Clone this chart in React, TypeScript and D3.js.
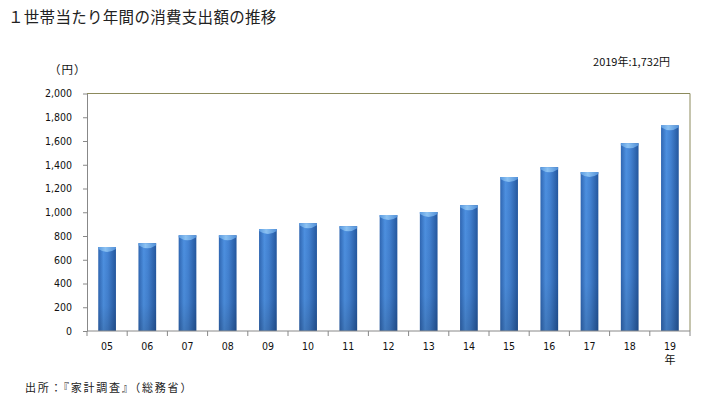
import { useEffect, useRef } from "react";
import * as d3 from "d3";

const years = ["05", "06", "07", "08", "09", "10", "11", "12", "13", "14", "15", "16", "17", "18", "19"];
const spending = [707, 740, 806, 806, 858, 908, 883, 976, 1002, 1060, 1296, 1380, 1338, 1582, 1732];
const yTicks = [0, 200, 400, 600, 800, 1000, 1200, 1400, 1600, 1800, 2000];

const title = "１世帯当たり年間の消費支出額の推移";
const note = "2019年:1,732円";
const unit = "（円）";
const source = "出所：『家計調査』（総務省）";

const App = () => {
  const svgRef = useRef<SVGSVGElement | null>(null);

  useEffect(() => {
    const width = 701;
    const height = 409;
    const left = 87;
    const right = 690;
    const top = 93.5;
    const bottom = 331;
    const jp = "'Noto Sans CJK JP', sans-serif";
    const num = "'DejaVu Sans Condensed', 'Liberation Sans Narrow', sans-serif";

    const svg = d3.select(svgRef.current);
    svg.selectAll("*").remove();
    svg.attr("width", width).attr("height", height);

    const defs = svg.append("defs");
    const side = defs.append("linearGradient").attr("id", "barSide")
      .attr("x1", "0").attr("x2", "1").attr("y1", "0").attr("y2", "0");
    [["0%", "#2f66b2"], ["30%", "#4d90e0"], ["55%", "#4382d2"], ["100%", "#24579e"]]
      .forEach(([o, c]) => side.append("stop").attr("offset", o).attr("stop-color", c));
    const shade = defs.append("linearGradient").attr("id", "barShade")
      .attr("x1", "0").attr("x2", "0").attr("y1", "0").attr("y2", "1");
    [["0%", "#000", 0], ["70%", "#000", 0.04], ["100%", "#000", 0.16]]
      .forEach(([o, c, a]) => shade.append("stop").attr("offset", o as string)
        .attr("stop-color", c as string).attr("stop-opacity", a as number));
    const cap = defs.append("linearGradient").attr("id", "barCap")
      .attr("x1", "0").attr("x2", "1").attr("y1", "0").attr("y2", "0");
    [["0%", "#5a9ae0"], ["40%", "#8cc2f2"], ["100%", "#5290d8"]]
      .forEach(([o, c]) => cap.append("stop").attr("offset", o).attr("stop-color", c));

    const x = d3.scaleBand<string>().domain(years).range([left, right]).paddingInner(0.56).paddingOuter(0.28);
    const band = d3.scaleBand<string>().domain(years).range([left, right]);
    const y = d3.scaleLinear().domain([0, 2000]).range([bottom, top]);

    svg.append("text").attr("x", 8).attr("y", 23).attr("font-family", jp)
      .attr("font-size", 15.5).attr("letter-spacing", 0.3).attr("fill", "#222").text(title);
    svg.append("text").attr("x", 670).attr("y", 66).attr("text-anchor", "end")
      .attr("font-family", jp).attr("font-size", 11).attr("fill", "#111").text(note);
    svg.append("text").attr("x", 49).attr("y", 74).attr("font-family", jp)
      .attr("font-size", 11.5).attr("letter-spacing", 1).attr("fill", "#111").text(unit);
    svg.append("text").attr("x", 25).attr("y", 392).attr("font-family", jp)
      .attr("font-size", 11).attr("letter-spacing", 1.8).attr("fill", "#222").text(source);

    // frame top / right
    svg.append("path")
      .attr("d", `M${left},${top}H${right}V${bottom}`)
      .attr("fill", "none").attr("stroke", "#8c8a5c").attr("stroke-width", 1);

    const bars = svg.append("g").selectAll("g").data(years).enter().append("g");
    bars.append("rect")
      .attr("x", d => x(d) as number)
      .attr("y", (_, i) => y(spending[i]))
      .attr("width", x.bandwidth())
      .attr("height", (_, i) => bottom - y(spending[i]))
      .attr("fill", "url(#barSide)");
    bars.append("rect")
      .attr("x", d => x(d) as number)
      .attr("y", (_, i) => y(spending[i]))
      .attr("width", x.bandwidth())
      .attr("height", (_, i) => bottom - y(spending[i]))
      .attr("fill", "url(#barShade)");
    bars.append("path")
      .attr("d", (d, i) => {
        const x0 = x(d) as number;
        const x1 = x0 + x.bandwidth();
        const t = y(spending[i]);
        const cx = (x0 + x1) / 2;
        return `M${x0},${t}H${x1}V${t + 2}Q${cx},${t + 8} ${x0},${t + 2}Z`;
      })
      .attr("fill", "url(#barCap)");

    // y axis
    const yAxis = svg.append("g").attr("transform", `translate(${left},0)`)
      .call(d3.axisLeft(y).tickValues(yTicks).tickSize(4).tickSizeOuter(0)
        .tickFormat(d => d3.format(",")(d as number)));
    yAxis.select(".domain").attr("stroke", "#888");
    yAxis.selectAll(".tick line").attr("stroke", "#888");
    yAxis.selectAll(".tick text").attr("font-family", num).attr("font-size", 10.5)
      .attr("fill", "#111").attr("x", -15);

    // x axis
    svg.append("line").attr("x1", left).attr("x2", right).attr("y1", bottom).attr("y2", bottom)
      .attr("stroke", "#888");
    const edges = [...years.map(d => band(d) as number), right];
    svg.append("g").selectAll("line").data(edges).enter().append("line")
      .attr("x1", d => d).attr("x2", d => d).attr("y1", bottom).attr("y2", bottom + 5)
      .attr("stroke", "#888");
    svg.append("g").selectAll("text").data(years).enter().append("text")
      .attr("x", d => (band(d) as number) + band.bandwidth() / 2)
      .attr("y", bottom + 19)
      .attr("text-anchor", "middle")
      .attr("font-family", num).attr("font-size", 10.5).attr("fill", "#111")
      .text(d => d);
    svg.append("text")
      .attr("x", (band("19") as number) + band.bandwidth() / 2)
      .attr("y", bottom + 33).attr("text-anchor", "middle")
      .attr("font-family", jp).attr("font-size", 11).attr("fill", "#111").text("年");
  }, []);

  return <svg ref={svgRef} style={{ position: "absolute", left: 0, top: 0 }}></svg>;
};

export default App;
